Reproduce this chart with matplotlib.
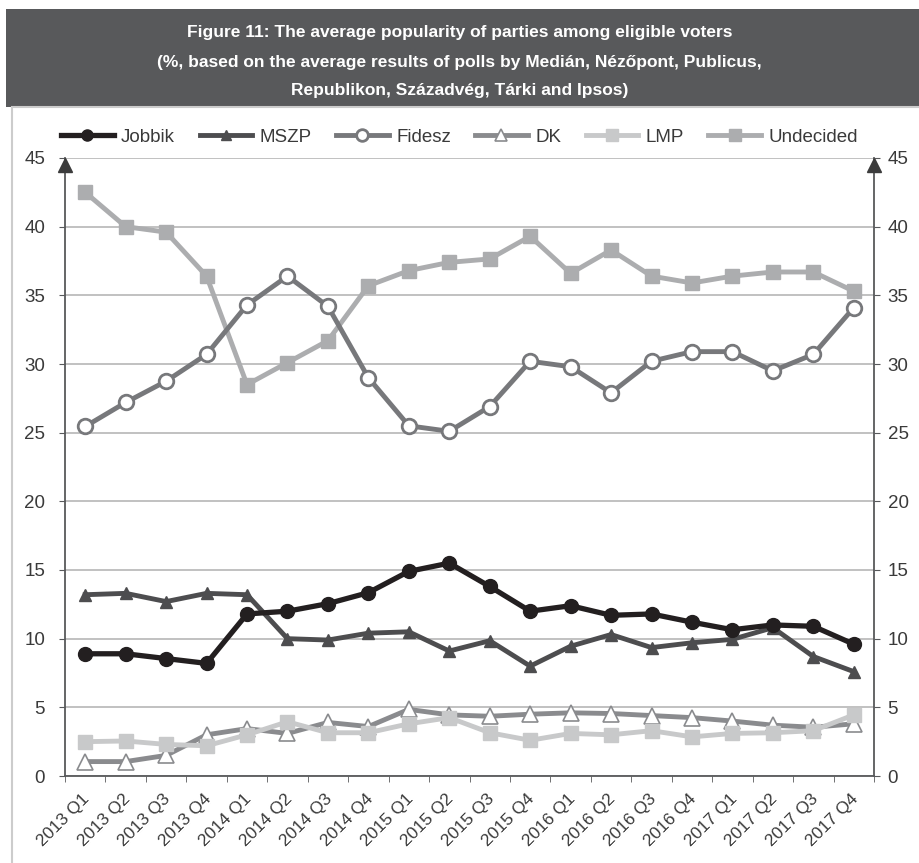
import matplotlib
matplotlib.use("Agg")
import matplotlib.pyplot as plt
import numpy as np
from matplotlib.patches import Rectangle

quarters = [f"{y} Q{q}" for y in range(2013, 2018) for q in range(1, 5)]

jobbik = [8.9, 8.9, 8.55, 8.2, 11.8, 12.0, 12.55, 13.35, 14.9, 15.5,
          13.8, 12.0, 12.4, 11.7, 11.8, 11.2, 10.65, 11.0, 10.9, 9.6]
mszp = [13.2, 13.3, 12.7, 13.3, 13.2, 10.0, 9.9, 10.4, 10.5, 9.1,
        9.85, 8.0, 9.45, 10.3, 9.35, 9.7, 9.95, 10.8, 8.7, 7.6]
fidesz = [25.45, 27.2, 28.75, 30.7, 34.3, 36.4, 34.2, 29.0, 25.5, 25.1,
          26.9, 30.2, 29.8, 27.9, 30.2, 30.9, 30.9, 29.5, 30.7, 34.1]
dk = [1.05, 1.05, 1.5, 3.0, 3.45, 3.1, 3.9, 3.6, 4.85, 4.45,
      4.35, 4.5, 4.6, 4.55, 4.4, 4.25, 4.0, 3.7, 3.55, 3.8]
lmp = [2.5, 2.55, 2.3, 2.2, 3.0, 3.95, 3.15, 3.15, 3.8, 4.25,
       3.15, 2.6, 3.1, 3.0, 3.3, 2.85, 3.1, 3.15, 3.3, 4.45]
undecided = [42.5, 40.0, 39.6, 36.4, 28.5, 30.1, 31.7, 35.7, 36.8, 37.4,
             37.65, 39.3, 36.6, 38.3, 36.4, 35.9, 36.4, 36.7, 36.7, 35.3]

W, H = 919, 863
FONT = ["Liberation Sans", "DejaVu Sans"]
TXT = "#3a3a3a"
AXC = "#58595b"

fig = plt.figure(figsize=(W / 100, H / 100), dpi=100)
fig.patch.set_facecolor("white")

# title banner and light frame
fig.patches.append(Rectangle((6 / W, 1 - 107 / H), 1, 98 / H, transform=fig.transFigure,
                             facecolor="#58595b", edgecolor="none", zorder=0))
fig.patches.append(Rectangle((12 / W, -0.05), 1, 1 - 107 / H + 0.05, transform=fig.transFigure,
                             facecolor="none", edgecolor="#cccccc", linewidth=1.5, zorder=0))
title_lines = ["Figure 11: The average popularity of parties among eligible voters",
               "(%, based on the average results of polls by Medián, Nézőpont, Publicus,",
               "Republikon, Századvég, Tárki and Ipsos)"]
for i, t in enumerate(title_lines):
    fig.text(0.5, 1 - (33 + 29 * i) / H, t, ha="center", va="center", color="white",
             fontsize=12.5, fontweight="bold", family=FONT)

ax = fig.add_axes([65 / W, (H - 776) / H, 809 / W, (776 - 158) / H])
x = np.arange(len(quarters)) + 0.5

ax.plot(x, undecided, color="#acadaf", lw=3.5, marker="s", ms=10, label="Undecided", zorder=3)
ax.plot(x, fidesz, color="#77787b", lw=3.5, marker="o", ms=10.5, mfc="white", mew=2,
        label="Fidesz", zorder=4)
ax.plot(x, lmp, color="#c8c9ca", lw=3.5, marker="s", ms=10, label="LMP", zorder=4)
ax.plot(x, dk, color="#8a8b8e", lw=3.5, marker="^", ms=11, mfc="white", mew=1.2,
        label="DK", zorder=3)
ax.plot(x, mszp, color="#4d4d4f", lw=3.5, marker="^", ms=9, label="MSZP", zorder=5)
ax.plot(x, jobbik, color="#231f20", lw=3.8, marker="o", ms=10, label="Jobbik", zorder=6)

ax.set_xlim(0, 20)
ax.set_ylim(0, 45)
ax.set_yticks(range(0, 50, 5))
ax.grid(axis="y", color="#b0b0b0", lw=1.1)
ax.set_axisbelow(True)
ax.spines["top"].set_visible(False)
for s in ["left", "right", "bottom"]:
    ax.spines[s].set_color(AXC)
    ax.spines[s].set_linewidth(1.3)

ax.tick_params(axis="y", length=4.3, color=AXC, labelsize=13.5, labelcolor=TXT, pad=10)
for lab in ax.get_yticklabels():
    lab.set_fontfamily(FONT)

# right-hand axis labels
ax2 = ax.twinx()
ax2.set_ylim(0, 45)
ax2.set_yticks(range(0, 50, 5))
ax2.tick_params(axis="y", length=4.3, color=AXC, labelsize=13.5, labelcolor=TXT, pad=5.5)
for lab in ax2.get_yticklabels():
    lab.set_fontfamily(FONT)
for s in ax2.spines.values():
    s.set_visible(False)

ax.set_xticks(range(0, 21), minor=True)
ax.set_xticks(x - 0.08)
ax.set_xticklabels(quarters, rotation=45, ha="right", rotation_mode="anchor",
                   fontsize=12.5, color=TXT, family=FONT)
ax.tick_params(axis="x", which="major", length=0, pad=11)
ax.tick_params(axis="x", which="minor", length=4.3, color=AXC)

# arrowheads on both vertical axes
ax.plot([0, 20], [44.5, 44.5], ls="none", marker="^", ms=10, color="#3c3c3c",
        clip_on=False, zorder=7)

handles, labels = ax.get_legend_handles_labels()
order = ["Jobbik", "MSZP", "Fidesz", "DK", "LMP", "Undecided"]
hmap = dict(zip(labels, handles))
leg = fig.legend([hmap[k] for k in order], order, loc="center", bbox_to_anchor=(0.5, 1 - 137 / H),
                 ncol=6, frameon=False, handlelength=2.8, columnspacing=1.3,
                 handletextpad=0.4, markerscale=0.8,
                 prop={"family": FONT, "size": 13.5})
for t in leg.get_texts():
    t.set_color(TXT)

fig.savefig("out.png", dpi=100)
